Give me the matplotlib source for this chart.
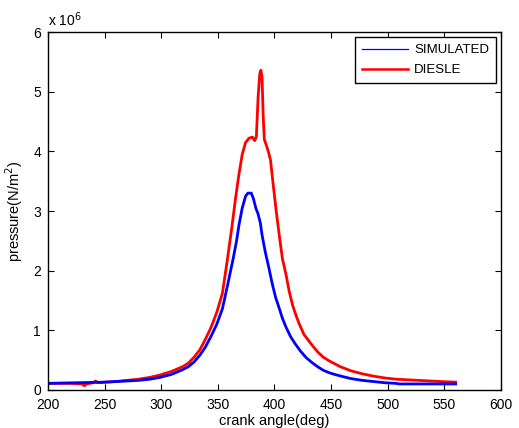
import matplotlib
matplotlib.use("Agg")
import matplotlib.pyplot as plt
from matplotlib.lines import Line2D
import numpy as np

plt.rcParams['font.family'] = ['Liberation Sans', 'DejaVu Sans']

# crank angle (deg) and pressure (x 1e6 N/m^2)
ang_sim = [200, 250, 270, 280, 290, 299, 309, 319, 324, 329, 334, 339, 344, 349,
           354, 358.5, 363.5, 366.5, 368.5, 371.5, 374.5, 376.5, 379.5, 381.5,
           383.5, 385.5, 387.5, 389, 392, 395, 398, 401, 404, 407, 410, 414, 418,
           423, 428, 433, 438, 443, 448, 453, 461, 467.5, 477.5, 487.5, 497.5,
           507, 510, 560]
p_sim = [0.11, 0.13, 0.15, 0.16, 0.18, 0.21, 0.26, 0.34, 0.39, 0.47, 0.58, 0.72,
         0.90, 1.10, 1.36, 1.75, 2.20, 2.50, 2.75, 3.05, 3.25, 3.30, 3.30, 3.20,
         3.05, 2.95, 2.80, 2.60, 2.30, 2.05, 1.78, 1.55, 1.38, 1.20, 1.06, 0.90,
         0.78, 0.65, 0.54, 0.46, 0.39, 0.33, 0.29, 0.26, 0.22, 0.19, 0.16, 0.14,
         0.12, 0.11, 0.10, 0.10]

ang_dsl = [200, 220, 230, 232, 234, 240, 242, 244, 250, 260, 270, 280, 290, 299,
           309, 319, 324, 329, 334, 339, 344, 349, 354, 358.5, 362.5, 365.5, 368.5,
           371.5, 374.5, 377.5, 380.5, 382.5, 384, 385.5, 387, 388, 389, 390, 391,
           392.5, 394.5, 396.5, 398.5, 401.5, 404.5, 407, 410, 413, 416, 419, 422,
           426, 430, 434, 438, 443, 448, 453, 458, 467.5, 477.5, 487.5, 497.5, 507,
           517, 527, 537, 547, 560]
p_dsl = [0.11, 0.11, 0.10, 0.07, 0.10, 0.12, 0.15, 0.12, 0.13, 0.14, 0.16, 0.18,
         0.21, 0.25, 0.31, 0.39, 0.45, 0.55, 0.67, 0.85, 1.05, 1.30, 1.62, 2.20,
         2.75, 3.20, 3.60, 3.95, 4.15, 4.22, 4.24, 4.18, 4.25, 4.90, 5.30, 5.36,
         5.25, 4.60, 4.20, 4.12, 4.00, 3.85, 3.50, 3.00, 2.55, 2.20, 1.95, 1.65,
         1.42, 1.25, 1.10, 0.93, 0.83, 0.73, 0.64, 0.55, 0.49, 0.44, 0.39, 0.32,
         0.27, 0.23, 0.20, 0.18, 0.17, 0.16, 0.15, 0.14, 0.13]

fig = plt.figure(figsize=(5.19, 4.28), dpi=100)
ax = fig.add_axes([0.0925, 0.089, 0.8728, 0.836])

ax.plot(ang_dsl, np.array(p_dsl) * 1e6, color='#ff0000', lw=2.0)
ax.plot(ang_sim, np.array(p_sim) * 1e6, color='#0000ff', lw=2.0)

ax.set_xlim(200, 600)
ax.set_ylim(0, 6e6)
ax.set_xticks(np.arange(200, 601, 50))
ax.set_yticks(np.arange(0, 6.1e6, 1e6))
ax.set_yticklabels([str(i) for i in range(7)])
ax.tick_params(direction='in', top=True, right=True, labelsize=10, length=4)
ax.tick_params(axis='x', pad=6)
ax.tick_params(axis='y', pad=5)
for s in ax.spines.values():
    s.set_linewidth(1.0)

ax.text(0.0, 1.008, r'x 10$^{6}$', transform=ax.transAxes, fontsize=10,
        ha='left', va='bottom')
ax.set_xlabel('crank angle(deg)', fontsize=10.5, labelpad=1)
ax.set_ylabel(r'pressure(N/m$^2$)', fontsize=10.5, labelpad=6)

handles = [Line2D([], [], color='#0000ff', lw=0.9),
           Line2D([], [], color='#ff0000', lw=1.8)]
leg = ax.legend(handles, ['SIMULATED', 'DIESLE'], loc='upper right',
                fontsize=9.5, fancybox=False, framealpha=1, edgecolor='black',
                borderaxespad=0.4, handlelength=3.5, handletextpad=0.45,
                labelspacing=0.6, borderpad=0.5)
leg.get_frame().set_linewidth(1.0)

fig.savefig('out.png', dpi=100)
